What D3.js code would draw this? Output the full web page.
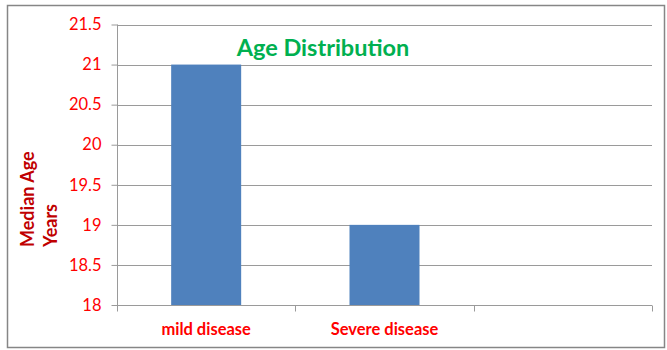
<!DOCTYPE html>
<html><head><meta charset="utf-8">
<script src="https://cdn.jsdelivr.net/npm/d3@7"></script>
<style>body{margin:0;background:#fff;}svg{display:block;font-family:Lato,"Liberation Sans",sans-serif;}</style>
</head><body>
<svg id="c" width="667" height="350"></svg>
<script>
const categories = ["mild disease", "Severe disease", ""];
const values = [21, 19, null];
const yTicks = [18, 18.5, 19, 19.5, 20, 20.5, 21, 21.5];
const title = "Age Distribution";
const yTitle = ["Median Age", "Years"];

const svg = d3.select("#c");
svg.append("rect").attr("x", 7.5).attr("y", 5.5).attr("width", 657).attr("height", 342)
  .attr("fill", "#fff").attr("stroke", "#868686").attr("stroke-width", 1.5);

const L = 117, R = 652, T = 24.5, B = 305;
const x = d3.scaleBand().domain(categories).range([L, R]).paddingInner(0).paddingOuter(0);
const y = d3.scaleLinear().domain([18, 21.5]).range([B, T]);

// gridlines
svg.append("g").selectAll("line").data(yTicks.slice(1)).join("line")
  .attr("x1", L).attr("x2", R).attr("y1", d => Math.round(y(d)) + 0.5).attr("y2", d => Math.round(y(d)) + 0.5)
  .attr("stroke", "#9a9a9a").attr("stroke-width", 1);

// bars
const bw = 70;
svg.append("g").selectAll("rect").data(categories.map((c, i) => ({c, v: values[i]})).filter(d => d.v != null)).join("rect")
  .attr("x", d => x(d.c) + x.bandwidth() / 2 - bw / 2)
  .attr("width", bw)
  .attr("y", d => y(d.v))
  .attr("height", d => y(18) - y(d.v))
  .attr("fill", "#4f81bd");

// y axis
const ya = svg.append("g").attr("transform", `translate(${L + 0.5},0)`)
  .call(d3.axisLeft(y).tickValues(yTicks).tickSize(6).tickPadding(10).tickFormat(d => d3.format("")(d)));
ya.select(".domain").attr("stroke", "#9a9a9a").attr("d", `M0,${T}V${B}`);
ya.selectAll(".tick line").attr("stroke", "#9a9a9a");
ya.selectAll(".tick text").attr("fill", "#ff0000").attr("font-size", 16.5)
  .attr("font-family", "Lato, 'Liberation Sans', sans-serif");

// x axis
const xa = svg.append("g").attr("transform", `translate(0,${Math.round(B) + 0.5})`);
xa.append("line").attr("x1", L).attr("x2", R).attr("stroke", "#9a9a9a");
const bounds = categories.map(c => x(c)).concat([R]);
xa.selectAll("line.tk").data(bounds).join("line").attr("class", "tk")
  .attr("x1", d => Math.round(d) + 0.5).attr("x2", d => Math.round(d) + 0.5).attr("y1", 0).attr("y2", 6)
  .attr("stroke", "#9a9a9a");
xa.selectAll("text").data(categories).join("text")
  .attr("x", d => x(d) + x.bandwidth() / 2).attr("y", 29)
  .attr("text-anchor", "middle").attr("fill", "#ff0000").attr("font-weight", "bold").attr("font-size", 16.5)
  .text(d => d);

// title
svg.append("text").attr("x", 323).attr("y", 56).attr("text-anchor", "middle")
  .attr("fill", "#00b050").attr("font-weight", "bold").attr("font-size", 23.5).text(title);

// y title
const yt = svg.append("text").attr("transform", "translate(0,247) rotate(-90)")
  .attr("fill", "#c00000").attr("font-weight", "bold").attr("font-size", 18).attr("text-anchor", "start");
yt.append("tspan").attr("x", 0).attr("y", 34).text(yTitle[0]);
yt.append("tspan").attr("x", 0).attr("y", 57).text(yTitle[1]);
</script>
</body></html>
